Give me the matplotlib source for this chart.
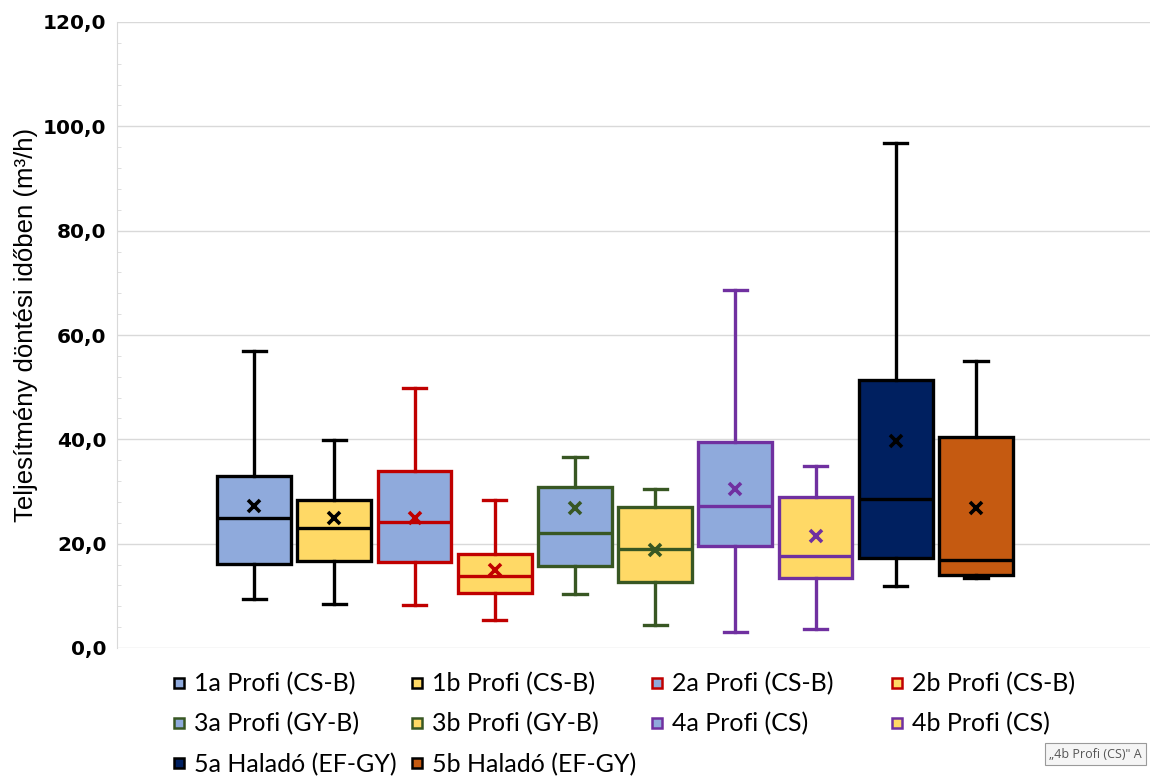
import matplotlib
matplotlib.use("Agg")
import matplotlib.pyplot as plt
from matplotlib.lines import Line2D
from matplotlib.ticker import MultipleLocator, FuncFormatter

# Groups and their box-plot statistics (m3/h)
groups = ["1a Profi (CS-B)", "1b Profi (CS-B)", "2a Profi (CS-B)", "2b Profi (CS-B)",
          "3a Profi (GY-B)", "3b Profi (GY-B)", "4a Profi (CS)", "4b Profi (CS)",
          "5a Haladó (EF-GY)", "5b Haladó (EF-GY)"]
whisker_low = [9.4, 8.5, 8.2, 5.4, 10.3, 4.4, 3.0, 3.6, 11.9, 13.4]
q1 = [16.1, 16.7, 16.5, 10.5, 15.7, 12.7, 19.5, 13.4, 17.3, 14.0]
median = [24.9, 23.0, 24.2, 13.8, 22.1, 19.0, 27.2, 17.6, 28.6, 16.8]
q3 = [32.9, 28.4, 34.0, 18.1, 30.8, 27.1, 39.4, 29.0, 51.3, 40.4]
whisker_high = [57.0, 39.8, 49.8, 28.4, 36.7, 30.4, 68.6, 34.9, 96.8, 55.0]
mean = [27.3, 25.0, 24.9, 14.9, 26.9, 18.8, 30.5, 21.5, 39.6, 26.9]

BLUE, YELLOW = "#8FAADC", "#FFD966"
fill_colors = [BLUE, YELLOW, BLUE, YELLOW, BLUE, YELLOW, BLUE, YELLOW, "#002060", "#C55A11"]
edge_colors = ["#000000", "#000000", "#C00000", "#C00000", "#385723", "#385723",
               "#7030A0", "#7030A0", "#000000", "#000000"]

y_label = "Teljesítmény döntési időben (m³/h)"

W, H = 1152, 780
fig = plt.figure(figsize=(W / 100, H / 100), dpi=100)
ax = fig.add_axes([117 / W, 1 - 648 / H, 1033 / W, 626 / H])

positions = list(range(len(groups)))
for i, name in enumerate(groups):
    stats = [dict(label=name, whislo=whisker_low[i], q1=q1[i], med=median[i],
                  q3=q3[i], whishi=whisker_high[i], mean=mean[i], fliers=[])]
    ec = edge_colors[i]
    lw = 2.4
    ax.bxp(stats, positions=[positions[i]], widths=0.92, capwidths=0.29,
           patch_artist=True, showmeans=True, showfliers=False,
           boxprops=dict(facecolor=fill_colors[i], edgecolor=ec, linewidth=lw),
           medianprops=dict(color=ec, linewidth=lw),
           whiskerprops=dict(color=ec, linewidth=lw),
           capprops=dict(color=ec, linewidth=lw),
           meanprops=dict(marker="x", markeredgecolor=ec, markersize=8,
                          markeredgewidth=2.6, linestyle="none"),
           zorder=3)

ax.set_xlim(-1.71, 11.17)
ax.set_ylim(0, 120)
ax.set_xticks([])
ax.yaxis.set_major_locator(MultipleLocator(20))
ax.yaxis.set_minor_locator(MultipleLocator(4))
ax.yaxis.set_major_formatter(FuncFormatter(lambda v, p: f"{v:.1f}".replace(".", ",")))
ax.grid(axis="y", color="#D9D9D9", linewidth=1.0, zorder=0)
for side in ("top", "right", "bottom"):
    ax.spines[side].set_visible(False)
ax.spines["left"].set_color("#D9D9D9")
ax.tick_params(axis="y", which="major", length=0, pad=7.5, labelsize=14.5)
ax.tick_params(axis="y", which="minor", length=3, color="#D9D9D9", direction="in")
for lab in ax.get_yticklabels():
    lab.set_fontweight("bold")
    lab.set_family("DejaVu Sans")
ax.set_ylabel(y_label, fontsize=18.5, family="Liberation Sans")
ax.yaxis.set_label_coords((38 - 117) / 1033, 0.516)

# Legend: four columns on an even grid
handles = [Line2D([], [], linestyle="none", marker="s", markersize=7.5,
                  markerfacecolor=fill_colors[i], markeredgecolor=edge_colors[i],
                  markeredgewidth=1.8, label=groups[i]) for i in range(len(groups))]
legend_columns = [[0, 4, 8], [1, 5, 9], [2, 6], [3, 7]]
column_left = [172, 410, 650, 890]
for col, x0 in zip(legend_columns, column_left):
    fig.legend([handles[k] for k in col], [groups[k] for k in col],
               loc="upper left", bbox_to_anchor=(x0 / W, 1 - 672 / H),
               ncol=1, frameon=False, prop=dict(family="Lato", size=18),
               handlelength=0.55, handletextpad=0.35,
               labelspacing=0.68, borderaxespad=0, borderpad=0)

fig.text(1049 / W, 1 - 754 / H, "„4b Profi (CS)\" A", fontsize=9,
         family="Open Sans", color="#555555", va="center", ha="left",
         bbox=dict(boxstyle="square,pad=0.35", fc="#F5F5F5", ec="#9A9A9A", lw=0.8))

fig.savefig("out.png", dpi=100)
